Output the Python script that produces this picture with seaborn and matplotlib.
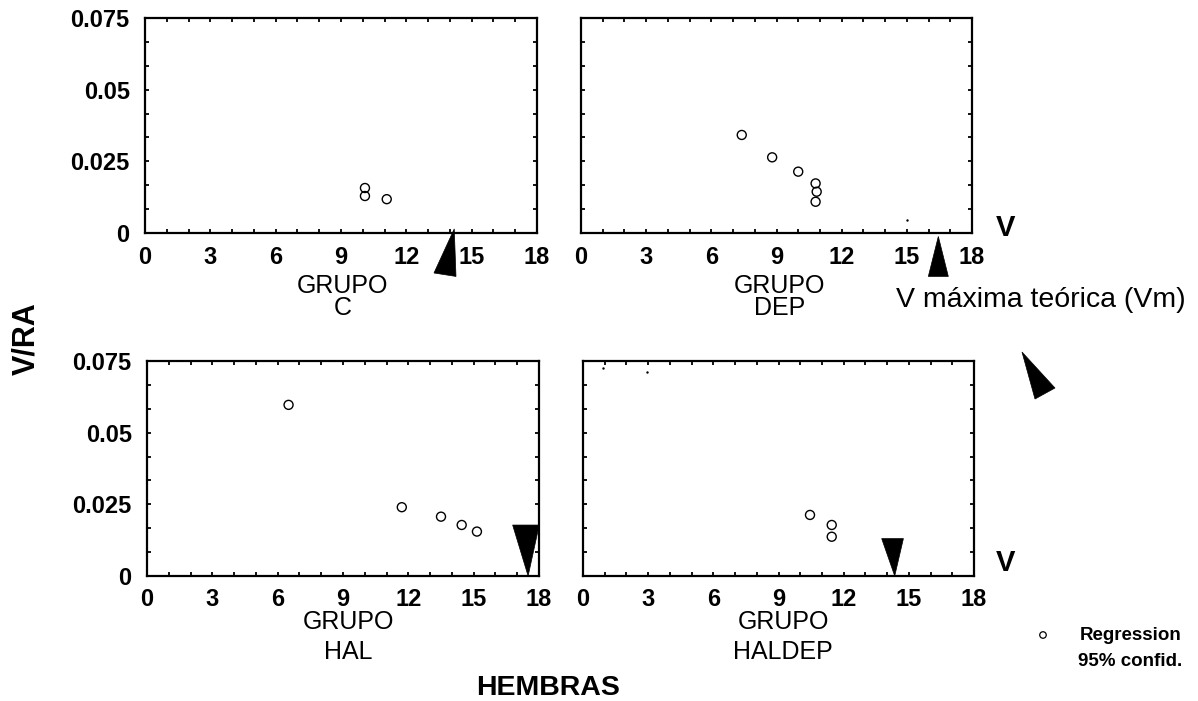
import numpy as np
import pandas as pd
import matplotlib
matplotlib.use("Agg")
import matplotlib.pyplot as plt
import matplotlib.transforms as mtransforms
from matplotlib.patches import Polygon
import seaborn as sns

# ---- data -------------------------------------------------------------
groups = ["C", "DEP", "HAL", "HALDEP"]

c_v = [10.1, 10.1, 11.1]
c_vra = [0.0157, 0.0129, 0.0118]

dep_v = [7.4, 8.8, 10.0, 10.8, 10.85, 10.8]
dep_vra = [0.0342, 0.0264, 0.0214, 0.0173, 0.0144, 0.0109]

hal_v = [6.5, 11.7, 13.5, 14.45, 15.15]
hal_vra = [0.0597, 0.0240, 0.0207, 0.0178, 0.0155]

haldep_v = [10.45, 11.45, 11.45]
haldep_vra = [0.0213, 0.0178, 0.0137]

# faint points barely visible at the panel edges
faint_group = ["DEP", "HALDEP", "HALDEP"]
faint_v = [15.0, 0.92, 2.95]
faint_vra = [0.0045, 0.0726, 0.0712]

# theoretical maximum V (Vm) per group
vm = [14.2, 16.45, 17.5, 14.35]

x_ticks = [0, 3, 6, 9, 12, 15, 18]
y_ticks = [0, 0.025, 0.05, 0.075]
y_tick_labels = ["0", "0.025", "0.05", "0.075"]

x_label = "HEMBRAS"
y_label = "V/RA"
vm_label = "V máxima teórica (Vm)"
legend_lines = ["Regression", "95% confid."]

# ---- frame -------------------------------------------------------------
df = pd.concat([
    pd.DataFrame({"grupo": "C", "V": c_v, "VRA": c_vra}),
    pd.DataFrame({"grupo": "DEP", "V": dep_v, "VRA": dep_vra}),
    pd.DataFrame({"grupo": "HAL", "V": hal_v, "VRA": hal_vra}),
    pd.DataFrame({"grupo": "HALDEP", "V": haldep_v, "VRA": haldep_vra}),
], ignore_index=True)
faint = pd.DataFrame({"grupo": faint_group, "V": faint_v, "VRA": faint_vra})

sns.set_style("white")
plt.rcParams["font.family"] = ["Liberation Sans", "DejaVu Sans"]
plt.rcParams["text.color"] = "black"
plt.rcParams["xtick.color"] = "black"
plt.rcParams["ytick.color"] = "black"
plt.rcParams["xtick.labelcolor"] = "black"
plt.rcParams["ytick.labelcolor"] = "black"

W, H = 1198, 701
fig = plt.figure(figsize=(W / 100, H / 100), dpi=100)


def fx(px):
    return px / W


def fy(py):
    return 1 - py / H


# panel boxes in pixels: left, top, right, bottom
boxes = {
    "C": (145, 18, 537, 233),
    "DEP": (581, 18, 972, 233),
    "HAL": (147, 361, 539, 576),
    "HALDEP": (583, 361, 974, 576),
}

# Vm arrowheads: (x offset from Vm, axes y)
arrow_shapes = {
    "C": [(0.0, 0.019), (-0.93, -0.186), (0.08, -0.202)],
    "DEP": [(0.0, -0.016), (-0.46, -0.202), (0.46, -0.202)],
    "HAL": [(0.0, 0.0), (-0.71, 0.237), (0.51, 0.237)],
    "HALDEP": [(0.0, 0.0), (-0.6, 0.174), (0.4, 0.174)],
}

axes = {}
for gi, g in enumerate(groups):
    l, t, r, b = boxes[g]
    ax = fig.add_axes([fx(l), fy(b), fx(r - l), (b - t) / H])
    axes[g] = ax
    sub = df[df["grupo"] == g]
    sns.scatterplot(data=sub, x="V", y="VRA", ax=ax, marker="o", s=42,
                    facecolors="none", edgecolor="black", linewidth=1.0,
                    legend=False)
    fsub = faint[faint["grupo"] == g]
    if len(fsub):
        sns.scatterplot(data=fsub, x="V", y="VRA", ax=ax, marker="o", s=3,
                        color="black", linewidth=0, legend=False)
    ax.set_xlim(0, 18)
    ax.set_ylim(0, 0.075)
    ax.set_xticks(x_ticks)
    ax.set_xticks(np.arange(0, 18.01, 1), minor=True)
    ax.set_yticks(y_ticks)
    ax.set_yticks(np.arange(0, 0.0751, 0.025 / 3), minor=True)
    ax.set_xticklabels([str(v) for v in x_ticks], fontsize=17, fontweight="bold")
    if gi % 2 == 0:
        ax.set_yticklabels(y_tick_labels, fontsize=17, fontweight="bold")
    else:
        ax.set_yticklabels([])
    ax.set_xlabel("")
    ax.set_ylabel("")
    ax.tick_params(which="both", direction="in", length=3, width=1.3,
                   top=True, right=True, bottom=True, left=True, color="black")
    ax.tick_params(axis="x", which="major", pad=9)
    ax.tick_params(axis="y", which="major", pad=11)
    for sp in ax.spines.values():
        sp.set_visible(True)
        sp.set_linewidth(1.6)
        sp.set_color("black")

    # Vm arrowhead anchored at the group's Vm value
    trans = mtransforms.blended_transform_factory(ax.transData, ax.transAxes)
    verts = [(vm[gi] + dx, yy) for dx, yy in arrow_shapes[g]]
    ax.add_patch(Polygon(verts, closed=True, transform=trans, clip_on=False,
                         facecolor="black", edgecolor="black", lw=0.5, zorder=5))

# group names under each panel
group_text = {
    "C": (343, 286, 308),
    "DEP": (780, 286, 308),
    "HAL": (348, 622, 652),
    "HALDEP": (783, 622, 652),
}
for g, (cx, y1, y2) in group_text.items():
    fig.text(fx(cx), fy(y1), "GRUPO", ha="center", va="center", fontsize=18)
    fig.text(fx(cx), fy(y2), g, ha="center", va="center", fontsize=18)

# axis titles
fig.text(fx(548), fy(688), x_label, ha="center", va="center",
         fontsize=20.5, fontweight="bold")
fig.text(fx(26), fy(339), y_label, ha="center", va="center",
         fontsize=22, fontweight="bold", rotation=90)

# "V" markers beside the right panels
fig.text(fx(1005), fy(228), "V", ha="center", va="center",
         fontsize=21, fontweight="bold")
fig.text(fx(1005), fy(563), "V", ha="center", va="center",
         fontsize=21, fontweight="bold")

# Vm key
fig.text(fx(1041), fy(300), vm_label, ha="center", va="center", fontsize=20.5)
fig.add_artist(Polygon([(fx(1022), fy(352)), (fx(1055), fy(388)), (fx(1035), fy(399))],
                       closed=True, transform=fig.transFigure,
                       facecolor="black", edgecolor="black", lw=0.5))

# regression key
key_ax = fig.add_axes([fx(1030), fy(650), fx(26), 30 / H])
key_ax.set_axis_off()
key_ax.set_xlim(0, 1)
key_ax.set_ylim(0, 1)
sns.scatterplot(x=[0.5], y=[0.5], ax=key_ax, marker="o", s=22,
                facecolors="none", edgecolor="black", linewidth=0.9, legend=False)
fig.text(fx(1080), fy(636), legend_lines[0], ha="left", va="center",
         fontsize=13.5, fontweight="bold")
fig.text(fx(1078), fy(662), legend_lines[1], ha="left", va="center",
         fontsize=13.5, fontweight="bold")

fig.savefig("out.png", dpi=100, facecolor="white")
